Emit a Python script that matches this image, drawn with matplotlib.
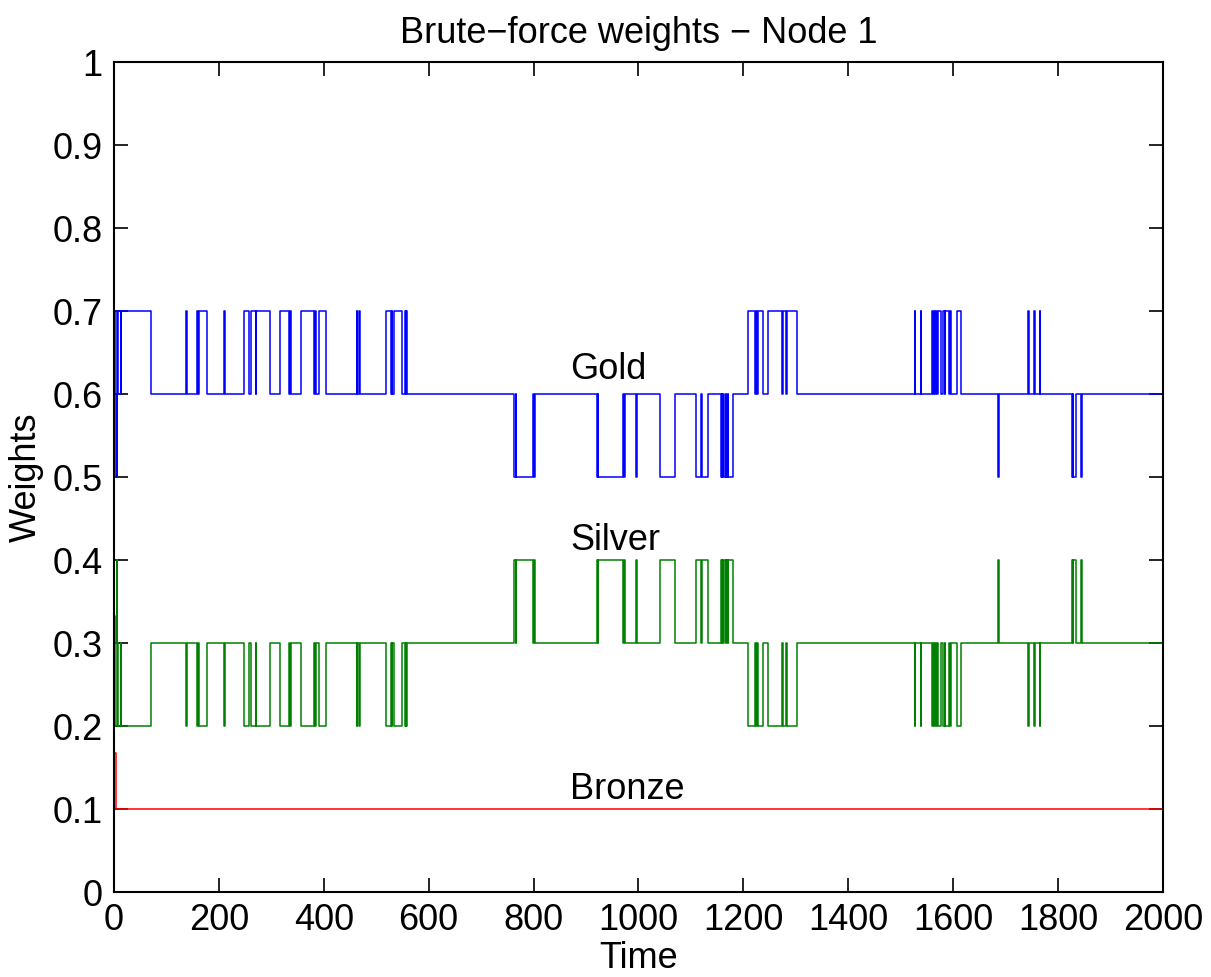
import matplotlib
matplotlib.use("Agg")
import matplotlib.pyplot as plt

plt.rcParams['font.family'] = ['Liberation Sans', 'DejaVu Sans']
plt.rcParams['font.size'] = 26

# switch times and weight levels (held until the next switch)
t_switch = [0, 2, 5, 6, 7, 13, 14, 70,
            138, 140, 159, 161, 163, 177, 210, 211,
            248, 257, 262, 270, 271, 297,
            316, 333, 336, 337, 356, 382, 383, 385, 390, 405,
            463, 464, 467, 469,
            518, 528, 530, 531, 534, 550, 555, 556, 557, 558,
            763, 766, 767, 799, 800, 802,
            920, 922, 923, 971, 972, 975, 996, 997,
            1041, 1070, 1110, 1119, 1122, 1133,
            1157, 1159, 1160, 1162, 1163, 1166, 1167, 1170, 1171, 1181,
            1209, 1222, 1224, 1225, 1227, 1237, 1246, 1273, 1276, 1281, 1284, 1303,
            1527, 1528, 1538, 1539, 1559, 1561, 1564, 1566, 1567, 1570,
            1571, 1576, 1581, 1584, 1585, 1592, 1593, 1596, 1608, 1614,
            1686, 1687,
            1743, 1745, 1754, 1755, 1765, 1766,
            1826, 1828, 1829, 1834, 1843, 1845,
            2000]

gold = [0.5, 0.7, 0.5, 0.6, 0.7, 0.6, 0.7, 0.6,
        0.7, 0.6, 0.7, 0.6, 0.7, 0.6, 0.7, 0.6,
        0.7, 0.6, 0.7, 0.6, 0.7, 0.6,
        0.7, 0.6, 0.7, 0.6, 0.7, 0.6, 0.7, 0.6, 0.7, 0.6,
        0.7, 0.6, 0.7, 0.6,
        0.7, 0.6, 0.7, 0.6, 0.7, 0.6, 0.7, 0.6, 0.7, 0.6,
        0.5, 0.6, 0.5, 0.6, 0.5, 0.6,
        0.5, 0.6, 0.5, 0.6, 0.5, 0.6, 0.5, 0.6,
        0.5, 0.6, 0.5, 0.6, 0.5, 0.6,
        0.5, 0.6, 0.5, 0.6, 0.5, 0.6, 0.5, 0.6, 0.5, 0.6,
        0.7, 0.6, 0.7, 0.6, 0.7, 0.6, 0.7, 0.6, 0.7, 0.6, 0.7, 0.6,
        0.7, 0.6, 0.7, 0.6, 0.7, 0.6, 0.7, 0.6, 0.7, 0.6,
        0.7, 0.6, 0.7, 0.6, 0.7, 0.6, 0.7, 0.6, 0.7, 0.6,
        0.5, 0.6,
        0.7, 0.6, 0.7, 0.6, 0.7, 0.6,
        0.5, 0.6, 0.5, 0.6, 0.5, 0.6,
        0.6]

silver = [0.333, 0.2, 0.4, 0.3, 0.2, 0.3, 0.2, 0.3,
          0.2, 0.3, 0.2, 0.3, 0.2, 0.3, 0.2, 0.3,
          0.2, 0.3, 0.2, 0.3, 0.2, 0.3,
          0.2, 0.3, 0.2, 0.3, 0.2, 0.3, 0.2, 0.3, 0.2, 0.3,
          0.2, 0.3, 0.2, 0.3,
          0.2, 0.3, 0.2, 0.3, 0.2, 0.3, 0.2, 0.3, 0.2, 0.3,
          0.4, 0.3, 0.4, 0.3, 0.4, 0.3,
          0.4, 0.3, 0.4, 0.3, 0.4, 0.3, 0.4, 0.3,
          0.4, 0.3, 0.4, 0.3, 0.4, 0.3,
          0.4, 0.3, 0.4, 0.3, 0.4, 0.3, 0.4, 0.3, 0.4, 0.3,
          0.2, 0.3, 0.2, 0.3, 0.2, 0.3, 0.2, 0.3, 0.2, 0.3, 0.2, 0.3,
          0.2, 0.3, 0.2, 0.3, 0.2, 0.3, 0.2, 0.3, 0.2, 0.3,
          0.2, 0.3, 0.2, 0.3, 0.2, 0.3, 0.2, 0.3, 0.2, 0.3,
          0.4, 0.3,
          0.2, 0.3, 0.2, 0.3, 0.2, 0.3,
          0.4, 0.3, 0.4, 0.3, 0.4, 0.3,
          0.3]

t_bronze = [0, 3, 2000]
bronze = [0.167, 0.1, 0.1]

fig = plt.figure(figsize=(12.11, 9.77), dpi=100)
ax = fig.add_axes([0.0941, 0.087, 0.8663, 0.8495])

ax.plot(t_switch, gold, color=(0, 0, 1), lw=1.1, drawstyle='steps-post')
ax.plot(t_switch, silver, color=(0, 0.5, 0), lw=1.1, drawstyle='steps-post')
ax.plot(t_bronze, bronze, color=(1, 0, 0), lw=1.1, drawstyle='steps-post')

ax.text(870, 0.63, 'Gold', va='center')
ax.text(870, 0.423, 'Silver', va='center')
ax.text(870, 0.123, 'Bronze', va='center')

ax.set_xlim(0, 2000)
ax.set_ylim(0, 1)
ax.set_xticks(range(0, 2001, 200))
ax.set_yticks([i / 10 for i in range(11)])
ax.set_yticklabels(['0', '0.1', '0.2', '0.3', '0.4', '0.5', '0.6', '0.7', '0.8', '0.9', '1'])
ax.tick_params(direction='in', length=10, width=1.2, top=True, right=True, pad=8)
for s in ax.spines.values():
    s.set_linewidth(1.5)

ax.set_title('Brute\u2212force weights \u2212 Node 1', fontsize=26, pad=14)
ax.set_xlabel('Time', labelpad=2)
ax.set_ylabel('Weights', labelpad=6)

fig.savefig('out.png', dpi=100)
